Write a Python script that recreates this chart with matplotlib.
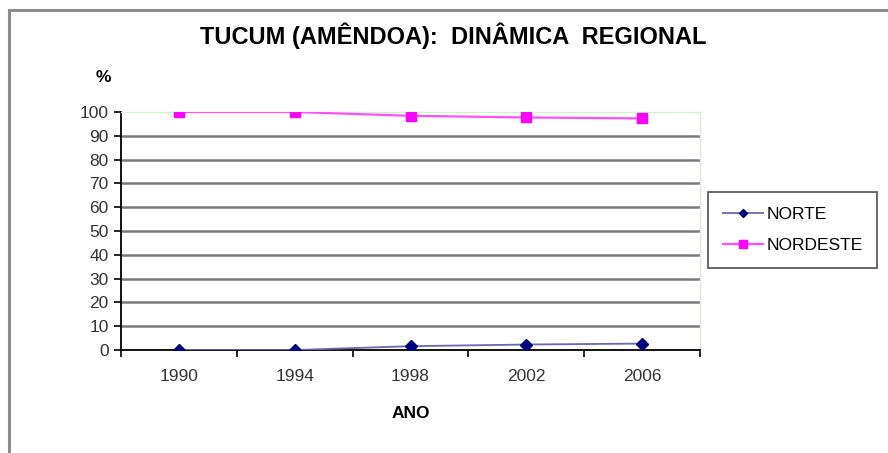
import numpy as np
import matplotlib.pyplot as plt
from matplotlib.patches import Rectangle

plt.rcParams['font.family'] = ['Liberation Sans', 'DejaVu Sans']

anos = ['1990', '1994', '1998', '2002', '2006']
norte = [0.0, 0.0, 1.6, 2.3, 2.7]
nordeste = [100.0, 100.0, 98.4, 97.7, 97.3]

fig = plt.figure(figsize=(8.88, 4.53), dpi=100)

# moldura externa do grafico
fig.patches.append(Rectangle((9 / 888, -0.2), 1.2, 0.2 + (453 - 10) / 453,
                             transform=fig.transFigure, fill=False,
                             edgecolor='#8c8c8c', linewidth=2.2, zorder=0))

ax = fig.add_axes([121 / 888, 103 / 453, 579 / 888, 238 / 453])
x = np.arange(len(anos))

for v in range(10, 100, 10):
    ax.axhline(v, color='#7a7a7a', linewidth=1.8, zorder=1)

ax.plot(x, norte, color='#6868b0', linewidth=1.3, marker='D', markersize=6,
        markerfacecolor='#000080', markeredgecolor='#000080', label='NORTE', zorder=3)
ax.plot(x, nordeste, color='#ff50ff', linewidth=1.6, marker='s', markersize=7.5,
        markerfacecolor='#ff00ff', markeredgecolor='#ff00ff', label='NORDESTE', zorder=3)

ax.set_xlim(-0.5, len(anos) - 0.5)
ax.set_ylim(0, 100)
ax.set_yticks(range(0, 101, 10))
ax.set_xticks(x)
ax.set_xticklabels(anos)
ax.set_xticks(np.arange(-0.5, len(anos), 1), minor=True)
ax.tick_params(axis='x', which='major', length=0, pad=14, labelsize=12.5, colors='#333333')
ax.tick_params(axis='x', which='minor', length=5, width=1.2, color='black')
ax.tick_params(axis='y', length=5, width=1.2, pad=4, labelsize=12.5, colors='#333333')
ax.tick_params(axis='y', color='black')

for s in ['top', 'right']:
    ax.spines[s].set_color('#ccf5cc')
    ax.spines[s].set_linewidth(1.0)
for s in ['left', 'bottom']:
    ax.spines[s].set_color('black')
    ax.spines[s].set_linewidth(1.3)

fig.text(453 / 888, 1 - 36 / 453, 'TUCUM (AMÊNDOA):  DINÂMICA  REGIONAL',
         ha='center', va='center', fontsize=17, fontweight='bold')
fig.text(103 / 888, 1 - 77 / 453, '%', ha='center', va='center',
         fontsize=12.5, fontweight='bold')
fig.text(411 / 888, 1 - 413 / 453, 'ANO', ha='center', va='center',
         fontsize=12.5, fontweight='bold')

leg = fig.legend(loc='center left', bbox_to_anchor=(708 / 888, 1 - 230 / 453),
                 fontsize=12.5, frameon=True, fancybox=False, edgecolor='#333333',
                 handlelength=2.3, handletextpad=0.2, labelspacing=0.95,
                 borderpad=0.85, borderaxespad=0, markerscale=0.75)
leg.get_frame().set_linewidth(1.3)

fig.savefig('out.png', dpi=100)
